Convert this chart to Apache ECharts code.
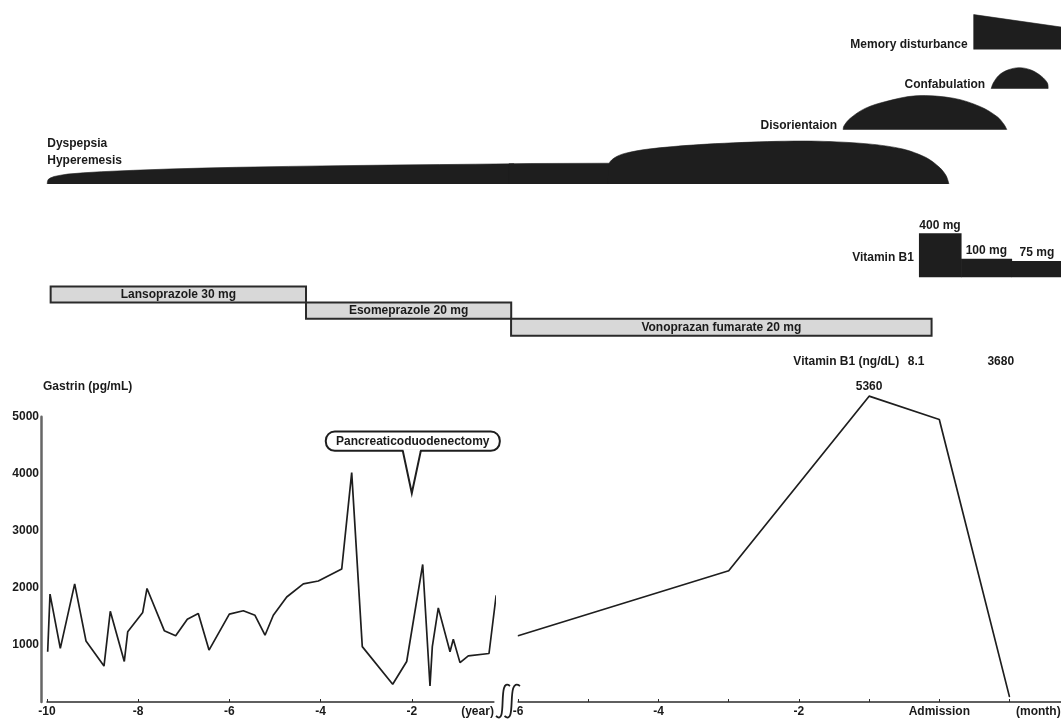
<!DOCTYPE html>
<html>
<head>
<meta charset="utf-8">
<script src="https://cdn.jsdelivr.net/npm/echarts@6/dist/echarts.min.js"></script>
<style>
  html, body { margin: 0; padding: 0; background: #fff; }
  #chart { width: 1061px; height: 720px; }
</style>
</head>
<body>
<div id="chart"></div>
<script>
// ---- Serum gastrin, long-term course (years) ----
const gastrinYearX = [-9.985, -9.934, -9.708, -9.393, -9.145, -8.750, -8.612, -8.305, -8.230, -7.901,
  -7.807, -7.428, -7.178, -6.923, -6.682, -6.447, -6.002, -5.695, -5.439, -5.219,
  -5.037, -4.743, -4.379, -4.050, -3.537, -3.318, -3.086, -2.419, -2.112, -1.761,
  -1.601, -1.550, -1.419, -1.162, -1.090, -0.943, -0.761, -0.307, -0.150];
const gastrinYearY = [880, 1890, 940, 2070, 1070, 630, 1590, 710, 1230, 1570,
  1990, 1250, 1160, 1450, 1550, 910, 1540, 1600, 1520, 1170,
  1520, 1840, 2070, 2120, 2330, 4020, 970, 310, 710, 2410,
  280, 970, 1650, 880, 1100, 690, 810, 850, 1870];

// ---- Serum gastrin, months around admission ----
const gastrinMonthX = [-6, -3, -1, 0, 1];
const gastrinMonthY = [1160, 2300, 5360, 4950, 90];

// ---- Axis ticks ----
const yearTicks = [-10, -8, -6, -4, -2];
const monthTicks = [-6, -5, -4, -3, -2, -1, 0, 1];
const monthLabels = [-6, -4, -2, 0];
const gastrinTicks = [1000, 2000, 3000, 4000, 5000];

// ---- Symptom intensity profiles: [time, intensity] ----
const dyspepsiaYears = [[-9.995, 0], [-9.99, 2.5], [-9.975, 4.4], [-9.93, 6.0], [-9.844, 7.5], [-9.70, 8.8],
  [-9.548, 9.9], [-9.20, 11.2], [-8.807, 12.3], [-8.10, 13.7], [-7.325, 15.0], [-6.60, 15.9],
  [-5.842, 16.7], [-4.70, 17.6], [-3.618, 18.3], [-2.50, 18.9], [-1.393, 19.4], [-0.60, 19.8],
  [0.24, 20.2], [0.24, 0]];
const dyspepsiaFlat = [[-6.13, 0], [-6.13, 20.2], [-5.83, 20.5], [-4.60, 20.8], [-4.60, 0]];
const dyspepsiaBulge = [[-4.72, 0], [-4.70, 20.8], [-4.62, 26.5], [-4.48, 30.6], [-4.14, 35.0],
  [-3.42, 39.4], [-2.45, 42.4], [-1.73, 42.8], [-1.01, 40.1], [-0.52, 35.0], [-0.19, 26.5],
  [0.006, 16.4], [0.10, 7.9], [0.137, 0]];
const disorientation = [[-1.369, 0], [-1.359, 3.7], [-1.272, 11.2], [-1.056, 21.3], [-0.765, 28.1],
  [-0.332, 33.9], [0.199, 31.5], [0.585, 23.0], [0.826, 12.9], [0.923, 5.1], [0.962, 0]];
const confabulation = [[0.739, 0], [0.769, 5.7], [0.851, 13.5], [0.972, 18.6], [1.140, 21.0],
  [1.309, 18.6], [1.453, 12.5], [1.540, 5.7], [1.550, 0]];
const memoryDisturbance = [[0.49, 0], [0.49, 34.8], [1.75, 22.2], [1.75, 0]];

// ---- Acid suppressants ----
const drugNames = ['Lansoprazole 30 mg', 'Esomeprazole 20 mg', 'Vonoprazan fumarate 20 mg'];
const drugStart = [-9.92, -4.32, -6.10];
const drugEnd = [-4.32, 0.18, -0.11];
const drugScale = ['year', 'year', 'month'];

// ---- Vitamin B1 supplementation (mg) ----
const vitaminDose = [400, 100, 75];
const vitaminStart = [-0.29, 0.31, 1.03];
const vitaminEnd = [0.31, 1.03, 1.75];

// ---- Serum vitamin B1 (ng/dL) ----
const vitaminLevelTime = [-0.33, 0.875];
const vitaminLevel = [8.1, 3680];

const surgeryYear = -2;
const surgeryName = 'Pancreaticoduodenectomy';

// ---- Layout ----
const PX_YEAR = 45.6, X_YEAR_ZERO = 503;
const PX_MONTH = 70.2, X_ADMISSION = 939.3;
const YEAR_MIN = -10, YEAR_MAX = -0.2, MONTH_MIN = -6, MONTH_MAX = 1.75;
const yearLeft = X_YEAR_ZERO + YEAR_MIN * PX_YEAR;
const yearWidth = (YEAR_MAX - YEAR_MIN) * PX_YEAR;
const monthLeft = X_ADMISSION + MONTH_MIN * PX_MONTH;
const monthWidth = (MONTH_MAX - MONTH_MIN) * PX_MONTH;
const PLOT_TOP = 416.7, PLOT_H = 285.3;
const LANE = { memory: 49.4, confab: 88.7, disorient: 129.7, dyspepsia: 184, drugTop: 286.5, drugH: 16.1, level: 362 };
const CALLOUT_TIP = 3660;

const INK = '#1e1e1e';
const TEXT = '#1a1a1a';
const FAMILY = '"Liberation Sans", Arial, Helvetica, sans-serif';
const FONT = 'bold 12px ' + FAMILY;

const chart = echarts.init(document.getElementById('chart'), null, { renderer: 'canvas' });

function grid(left, width, top, height) {
  return { left, width, top, height, containLabel: false, outerBoundsMode: 'none', show: false };
}
function hiddenAxis(gridIndex, min, max, inverse) {
  return { gridIndex, type: 'value', min, max, inverse: !!inverse, show: false, splitLine: { show: false } };
}

// A filled symptom band: the profile's intensity is drawn upward from the lane baseline.
function shapeSeries(axisIndex, profile, base, smooth, label, labelMode) {
  return {
    type: 'custom', xAxisIndex: axisIndex, yAxisIndex: axisIndex, silent: true, z: 3,
    data: [[profile[0][0], base]],
    renderItem: (params, api) => {
      const pts = profile.map(([t, h]) => api.coord([t, base - h]));
      const shape = { points: pts };
      if (smooth) shape.smooth = smooth;
      const children = [{
        type: 'polyline', shape,
        style: { fill: INK, stroke: INK, lineWidth: 0.6 }
      }];
      if (label) {
        const p = api.coord([profile[0][0], base]);
        if (labelMode === 'above') {
          children.push({ type: 'text', style: { text: label, x: p[0], y: p[1] - 15.5, align: 'left',
            verticalAlign: 'bottom', font: FONT, fill: TEXT, lineHeight: 16.5 } });
        } else {
          children.push({ type: 'text', style: { text: label, x: p[0] - 6, y: p[1] + 1.5, align: 'right',
            verticalAlign: 'bottom', font: FONT, fill: TEXT } });
        }
      }
      return { type: 'group', children };
    }
  };
}

function drugSeries(axisIndex, scale) {
  const idx = drugNames.map((_, i) => i).filter(i => drugScale[i] === scale);
  return {
    type: 'custom', xAxisIndex: axisIndex, yAxisIndex: axisIndex, silent: true, z: 4,
    data: idx.map(i => [drugStart[i], drugEnd[i], i]),
    renderItem: (params, api) => {
      const row = api.value(2);
      const top = LANE.drugTop + row * LANE.drugH;
      const a = api.coord([api.value(0), top]);
      const b = api.coord([api.value(1), top + LANE.drugH + (row === 2 ? 1 : 0)]);
      return { type: 'group', children: [
        { type: 'rect', shape: { x: a[0], y: a[1], width: b[0] - a[0], height: b[1] - a[1] },
          style: { fill: '#d8d8d8', stroke: '#2a2a2a', lineWidth: 2 } },
        { type: 'text', style: { text: drugNames[row], x: (a[0] + b[0]) / 2, y: (a[1] + b[1]) / 2 + 0.5,
          align: 'center', verticalAlign: 'middle', font: FONT, fill: TEXT } }
      ] };
    }
  };
}

const peakValue = Math.max(...gastrinMonthY);

const option = {
  animation: false,
  backgroundColor: '#fff',
  textStyle: { fontFamily: FAMILY },
  grid: [
    grid(yearLeft, yearWidth, PLOT_TOP, PLOT_H),
    grid(monthLeft, monthWidth, PLOT_TOP, PLOT_H),
    grid(yearLeft, yearWidth, 0, 380),
    grid(monthLeft, monthWidth, 0, 380),
    grid(monthLeft, monthWidth, 233.2, 44)
  ],
  xAxis: [
    {
      gridIndex: 0, type: 'value', min: YEAR_MIN, max: YEAR_MAX,
      axisLine: { show: true, onZero: false, lineStyle: { color: '#2b2b2b', width: 1.5 } },
      axisTick: { show: true, inside: true, length: 3, customValues: yearTicks, lineStyle: { color: '#2b2b2b', width: 1 } },
      axisLabel: { show: true, customValues: yearTicks, margin: 4, color: TEXT, fontWeight: 'bold', fontSize: 12,
        fontFamily: FAMILY, showMinLabel: true, showMaxLabel: true, formatter: v => String(v) },
      splitLine: { show: false },
      name: '(year)', nameLocation: 'end', nameGap: 0,
      nameTextStyle: { align: 'right', verticalAlign: 'top', padding: [4, 0, 0, 0], color: TEXT,
        fontWeight: 'bold', fontSize: 12, fontFamily: FAMILY }
    },
    {
      gridIndex: 1, type: 'value', min: MONTH_MIN, max: MONTH_MAX,
      axisLine: { show: true, onZero: false, lineStyle: { color: '#2b2b2b', width: 1.5 } },
      axisTick: { show: true, inside: true, length: 3, customValues: monthTicks, lineStyle: { color: '#2b2b2b', width: 1 } },
      axisLabel: { show: true, customValues: monthLabels, margin: 4, color: TEXT, fontWeight: 'bold', fontSize: 12,
        fontFamily: FAMILY, showMinLabel: true, formatter: v => (v === 0 ? 'Admission' : String(v)) },
      splitLine: { show: false },
      name: '(month)', nameLocation: 'end', nameGap: -1.5,
      nameTextStyle: { align: 'right', verticalAlign: 'top', padding: [4, 0, 0, 0], color: TEXT,
        fontWeight: 'bold', fontSize: 12, fontFamily: FAMILY }
    },
    hiddenAxis(2, YEAR_MIN, YEAR_MAX),
    hiddenAxis(3, MONTH_MIN, MONTH_MAX),
    hiddenAxis(4, MONTH_MIN, MONTH_MAX)
  ],
  yAxis: [
    {
      gridIndex: 0, type: 'value', min: 0, max: 5000, offset: 6,
      axisLine: { show: true, lineStyle: { color: '#666', width: 2.5 } },
      axisTick: { show: false },
      axisLabel: { show: true, customValues: gastrinTicks, margin: 2, color: TEXT, fontWeight: 'bold', fontSize: 12,
        fontFamily: FAMILY, formatter: v => String(v) },
      splitLine: { show: false },
      name: 'Gastrin (pg/mL)', nameLocation: 'end', nameGap: 30.5,
      nameTextStyle: { align: 'left', verticalAlign: 'middle', padding: [0, 0, 0, 2], color: TEXT,
        fontWeight: 'bold', fontSize: 12, fontFamily: FAMILY }
    },
    hiddenAxis(1, 0, 5000),
    hiddenAxis(2, 0, 380, true),
    hiddenAxis(3, 0, 380, true),
    hiddenAxis(4, -115, 400)
  ],
  // axis break mark between the year and month scales
  graphic: [0, 8.5].map((dx, k) => ({
    type: 'bezierCurve', silent: true, z: 10,
    shape: { x1: 496 + dx, y1: 716, cpx1: 508 + dx + k, cpy1: 727, cpx2: 497 + dx, cpy2: 676, x2: 510 + dx + k * 1.5, y2: 686 },
    style: { stroke: INK, lineWidth: 1.8, fill: null }
  })),
  series: [
    // gastrin, years
    {
      type: 'line', xAxisIndex: 0, yAxisIndex: 0, silent: true, clip: false, z: 5,
      data: gastrinYearX.map((x, i) => [x, gastrinYearY[i]]),
      showSymbol: false, lineStyle: { color: INK, width: 1.7 }
    },
    // gastrin, months
    {
      type: 'line', xAxisIndex: 1, yAxisIndex: 1, silent: true, clip: false, z: 5,
      data: gastrinMonthX.map((x, i) => ({
        value: [x, gastrinMonthY[i]],
        label: { show: gastrinMonthY[i] === peakValue }
      })),
      showSymbol: true, symbol: 'circle', symbolSize: 1, itemStyle: { color: INK },
      lineStyle: { color: INK, width: 1.7 },
      label: { position: 'top', distance: 3, formatter: p => String(p.value[1]), color: TEXT,
        fontWeight: 'bold', fontSize: 12, fontFamily: FAMILY }
    },
    // surgery callout
    {
      type: 'custom', xAxisIndex: 0, yAxisIndex: 0, silent: true, z: 6,
      data: [[surgeryYear, CALLOUT_TIP]],
      renderItem: (params, api) => {
        const tip = api.coord([api.value(0), api.value(1)]);
        const w = 174, h = 19.4, bottom = tip[1] - 42.3, cx = tip[0] + 1;
        return { type: 'group', children: [
          { type: 'rect', shape: { x: cx - w / 2, y: bottom - h, width: w, height: h, r: 9 },
            style: { fill: '#fff', stroke: INK, lineWidth: 2 } },
          { type: 'polygon', shape: { points: [[tip[0] - 8.5, bottom - 1.6], [tip[0] + 8.5, bottom - 1.6], [tip[0], tip[1] - 2]] },
            style: { fill: '#fff' } },
          { type: 'polyline', shape: { points: [[tip[0] - 9, bottom], [tip[0], tip[1]], [tip[0] + 9, bottom]] },
            style: { stroke: INK, lineWidth: 2, fill: null } },
          { type: 'text', style: { text: surgeryName, x: cx, y: bottom - h / 2 + 0.5, align: 'center',
            verticalAlign: 'middle', font: FONT, fill: TEXT } }
        ] };
      }
    },
    // symptoms
    shapeSeries(2, dyspepsiaYears, LANE.dyspepsia, 0, 'Dyspepsia\nHyperemesis', 'above'),
    shapeSeries(3, dyspepsiaFlat, LANE.dyspepsia, 0),
    shapeSeries(3, dyspepsiaBulge, LANE.dyspepsia, 0.3),
    shapeSeries(3, disorientation, LANE.disorient, 0.35, 'Disorientaion'),
    shapeSeries(3, confabulation, LANE.confab, 0.35, 'Confabulation'),
    shapeSeries(3, memoryDisturbance, LANE.memory, 0, 'Memory disturbance'),
    // acid suppressants
    drugSeries(2, 'year'),
    drugSeries(3, 'month'),
    // vitamin B1 supplementation
    {
      type: 'custom', xAxisIndex: 4, yAxisIndex: 4, silent: true, z: 4,
      data: vitaminDose.map((d, i) => [vitaminStart[i], vitaminEnd[i], d]),
      renderItem: (params, api) => {
        const a = api.coord([api.value(0), api.value(2)]);
        const b = api.coord([api.value(1), -115]);
        const children = [
          { type: 'rect', shape: { x: a[0], y: a[1], width: b[0] - a[0] + 0.5, height: b[1] - a[1] },
            style: { fill: INK } },
          { type: 'text', style: { text: api.value(2) + ' mg', x: (a[0] + b[0]) / 2, y: a[1] - 2,
            align: 'center', verticalAlign: 'bottom', font: FONT, fill: TEXT } }
        ];
        if (params.dataIndex === 0) {
          children.push({ type: 'text', style: { text: 'Vitamin B1', x: a[0] - 5, y: (a[1] + b[1]) / 2 + 2,
            align: 'right', verticalAlign: 'middle', font: FONT, fill: TEXT } });
        }
        return { type: 'group', children };
      }
    },
    // serum vitamin B1
    {
      type: 'custom', xAxisIndex: 3, yAxisIndex: 3, silent: true, z: 4,
      data: vitaminLevel.map((v, i) => [vitaminLevelTime[i], v]),
      renderItem: (params, api) => {
        const p = api.coord([api.value(0), LANE.level]);
        const children = [{ type: 'text', style: { text: String(api.value(1)), x: p[0], y: p[1],
          align: 'center', verticalAlign: 'middle', font: FONT, fill: TEXT } }];
        if (params.dataIndex === 0) {
          children.push({ type: 'text', style: { text: 'Vitamin B1 (ng/dL)', x: p[0] - 17, y: p[1],
            align: 'right', verticalAlign: 'middle', font: FONT, fill: TEXT } });
        }
        return { type: 'group', children };
      }
    }
  ]
};

chart.setOption(option);
</script>
</body>
</html>
